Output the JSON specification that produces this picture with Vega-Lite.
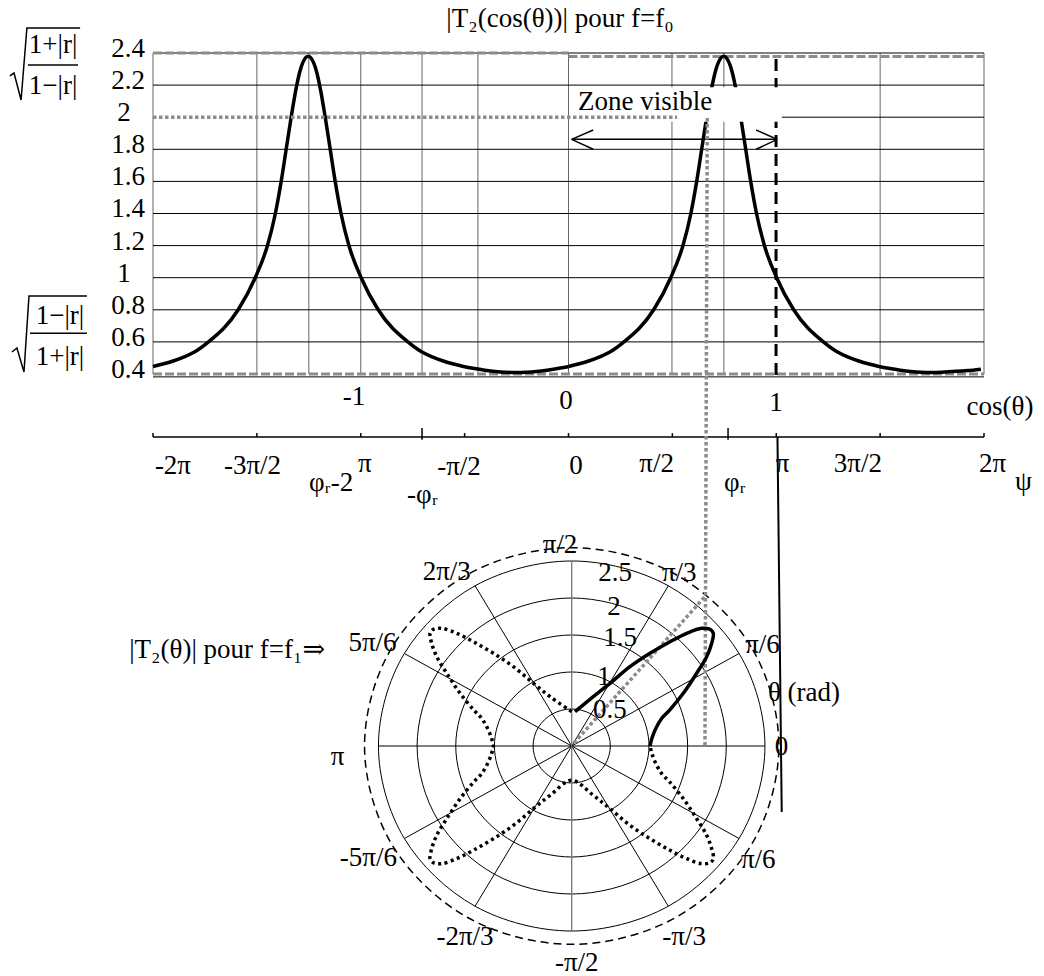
{
"$schema":"https://vega.github.io/schema/vega-lite/v6.json",
"width":1044,"height":976,"padding":0,"autosize":{"type":"none"},
"background":"#ffffff",
"config":{"view":{"stroke":null},"text":{"font":"'Liberation Serif', 'Times New Roman', 'DejaVu Serif', serif","fontSize":27,"fill":"#000"}},
"resolve":{"scale":{"x":"independent","y":"independent"}},
"layer":[
{"layer":[
{"data":{"values":[{"c1":-2,"v1":0.4,"c2":-2,"v2":2.4},{"c1":-1.5,"v1":0.4,"c2":-1.5,"v2":2.4},{"c1":-1.25,"v1":0.4,"c2":-1.25,"v2":2.4},{"c1":-1,"v1":0.4,"c2":-1,"v2":2.4},{"c1":-0.705,"v1":0.4,"c2":-0.705,"v2":2.4},{"c1":-0.436,"v1":0.4,"c2":-0.436,"v2":2.4},{"c1":0,"v1":0.4,"c2":0,"v2":2.4},{"c1":0.498,"v1":0.4,"c2":0.498,"v2":2.4},{"c1":0.748,"v1":0.4,"c2":0.748,"v2":2.4},{"c1":1.5,"v1":0.4,"c2":1.5,"v2":2.4},{"c1":2,"v1":0.4,"c2":2,"v2":2.4}]},
"mark":{"type":"rule","stroke":"#666666","strokeWidth":1},
"encoding":{"x":{"field":"c1","type":"quantitative","scale":{"domain":[-2,2],"range":[153,984],"nice":false,"zero":false},"axis":null},"x2":{"field":"c2"},"y":{"field":"v1","type":"quantitative","scale":{"domain":[0.4,2.4],"range":[374,53],"nice":false,"zero":false},"axis":null},"y2":{"field":"v2"}}},
{"data":{"values":[{"c1":-2,"v1":0.6,"c2":0,"v2":0.6},{"c1":-2,"v1":0.8,"c2":0,"v2":0.8},{"c1":-2,"v1":1,"c2":0,"v2":1},{"c1":-2,"v1":1.2,"c2":0,"v2":1.2},{"c1":-2,"v1":1.4,"c2":0,"v2":1.4},{"c1":-2,"v1":1.6,"c2":0,"v2":1.6},{"c1":-2,"v1":1.8,"c2":0,"v2":1.8},{"c1":-2,"v1":2.2,"c2":0,"v2":2.2},{"c1":0,"v1":0.6,"c2":2,"v2":0.6},{"c1":0,"v1":0.8,"c2":2,"v2":0.8},{"c1":0,"v1":1,"c2":2,"v2":1},{"c1":0,"v1":1.2,"c2":2,"v2":1.2},{"c1":0,"v1":1.4,"c2":2,"v2":1.4},{"c1":0,"v1":1.6,"c2":2,"v2":1.6},{"c1":0,"v1":1.8,"c2":2,"v2":1.8},{"c1":0,"v1":2,"c2":2,"v2":2},{"c1":0,"v1":2.2,"c2":2,"v2":2.2},{"c1":-2,"v1":2.4,"c2":2,"v2":2.4},{"c1":-2,"v1":0.382,"c2":2,"v2":0.382}]},
"mark":{"type":"rule","stroke":"#000000","strokeWidth":1},
"encoding":{"x":{"field":"c1","type":"quantitative","scale":{"domain":[-2,2],"range":[153,984],"nice":false,"zero":false},"axis":null},"x2":{"field":"c2"},"y":{"field":"v1","type":"quantitative","scale":{"domain":[0.4,2.4],"range":[374,53],"nice":false,"zero":false},"axis":null},"y2":{"field":"v2"}}},
{"data":{"values":[{"c1":-2,"v1":2.4,"c2":0,"v2":2.4},{"c1":0,"v1":2.378,"c2":2,"v2":2.378},{"c1":-2,"v1":0.4,"c2":2,"v2":0.4}]},
"mark":{"type":"rule","stroke":"#8c8c8c","strokeWidth":3,"strokeDash":[9,3]},
"encoding":{"x":{"field":"c1","type":"quantitative","scale":{"domain":[-2,2],"range":[153,984],"nice":false,"zero":false},"axis":null},"x2":{"field":"c2"},"y":{"field":"v1","type":"quantitative","scale":{"domain":[0.4,2.4],"range":[374,53],"nice":false,"zero":false},"axis":null},"y2":{"field":"v2"}}},
{"data":{"values":[
{"s":"L","c":-2,"v":0.447},{"s":"L","c":-1.953,"v":0.462},{"s":"L","c":-1.903,"v":0.481},{"s":"L","c":-1.853,"v":0.505},{"s":"L","c":-1.803,"v":0.535},{"s":"L","c":-1.733,"v":0.6},{"s":"L","c":-1.59,"v":0.8},{"s":"L","c":-1.508,"v":1.0},{"s":"L","c":-1.449,"v":1.2},{"s":"L","c":-1.411,"v":1.4},{"s":"L","c":-1.383,"v":1.6},{"s":"L","c":-1.359,"v":1.8},{"s":"L","c":-1.335,"v":2.0},{"s":"L","c":-1.308,"v":2.2},{"s":"L","c":-1.293,"v":2.285},{"s":"L","c":-1.278,"v":2.343},{"s":"L","c":-1.253,"v":2.38},{"s":"L","c":-1.228,"v":2.343},{"s":"L","c":-1.213,"v":2.285},{"s":"L","c":-1.198,"v":2.2},{"s":"L","c":-1.171,"v":2.0},{"s":"L","c":-1.147,"v":1.8},{"s":"L","c":-1.123,"v":1.6},{"s":"L","c":-1.095,"v":1.4},{"s":"L","c":-1.057,"v":1.2},{"s":"L","c":-0.998,"v":1.0},{"s":"L","c":-0.916,"v":0.8},{"s":"L","c":-0.773,"v":0.6},{"s":"L","c":-0.703,"v":0.535},{"s":"L","c":-0.653,"v":0.505},{"s":"L","c":-0.603,"v":0.481},{"s":"L","c":-0.553,"v":0.462},{"s":"L","c":-0.506,"v":0.447},{"s":"L","c":-0.453,"v":0.434},{"s":"L","c":-0.403,"v":0.424},{"s":"L","c":-0.353,"v":0.416},{"s":"L","c":-0.303,"v":0.411},{"s":"L","c":-0.253,"v":0.409},{"s":"L","c":-0.203,"v":0.411},{"s":"L","c":-0.153,"v":0.416},{"s":"L","c":-0.103,"v":0.424},{"s":"L","c":-0.053,"v":0.434},{"s":"L","c":0,"v":0.445},
{"s":"R","c":0,"v":0.447},{"s":"R","c":0.047,"v":0.462},{"s":"R","c":0.097,"v":0.481},{"s":"R","c":0.147,"v":0.505},{"s":"R","c":0.197,"v":0.535},{"s":"R","c":0.267,"v":0.6},{"s":"R","c":0.41,"v":0.8},{"s":"R","c":0.492,"v":1.0},{"s":"R","c":0.551,"v":1.2},{"s":"R","c":0.589,"v":1.4},{"s":"R","c":0.617,"v":1.6},{"s":"R","c":0.641,"v":1.8},{"s":"R","c":0.665,"v":2.0},{"s":"R","c":0.692,"v":2.2},{"s":"R","c":0.707,"v":2.285},{"s":"R","c":0.722,"v":2.343},{"s":"R","c":0.747,"v":2.38},{"s":"R","c":0.772,"v":2.343},{"s":"R","c":0.787,"v":2.285},{"s":"R","c":0.802,"v":2.2},{"s":"R","c":0.829,"v":2.0},{"s":"R","c":0.853,"v":1.8},{"s":"R","c":0.877,"v":1.6},{"s":"R","c":0.905,"v":1.4},{"s":"R","c":0.943,"v":1.2},{"s":"R","c":1.002,"v":1.0},{"s":"R","c":1.084,"v":0.8},{"s":"R","c":1.227,"v":0.6},{"s":"R","c":1.297,"v":0.535},{"s":"R","c":1.347,"v":0.505},{"s":"R","c":1.397,"v":0.481},{"s":"R","c":1.447,"v":0.462},{"s":"R","c":1.494,"v":0.447},{"s":"R","c":1.547,"v":0.434},{"s":"R","c":1.597,"v":0.424},{"s":"R","c":1.647,"v":0.416},{"s":"R","c":1.697,"v":0.411},{"s":"R","c":1.747,"v":0.409},{"s":"R","c":1.797,"v":0.411},{"s":"R","c":1.847,"v":0.415},{"s":"R","c":1.897,"v":0.419},{"s":"R","c":1.947,"v":0.424},{"s":"R","c":1.985,"v":0.43}]},
"mark":{"type":"line","stroke":"#000000","strokeWidth":3.5,"interpolate":"monotone"},
"encoding":{"x":{"field":"c","type":"quantitative","scale":{"domain":[-2,2],"range":[153,984],"nice":false,"zero":false},"axis":null},"y":{"field":"v","type":"quantitative","scale":{"domain":[0.4,2.4],"range":[374,53],"nice":false,"zero":false},"axis":null},"detail":{"field":"s"}}},
{"data":{"values":[{"c1":0.999,"v1":0.394,"c2":0.999,"v2":2.369}]},
"mark":{"type":"rule","stroke":"#000000","strokeWidth":3,"strokeDash":[12,7]},
"encoding":{"x":{"field":"c1","type":"quantitative","scale":{"domain":[-2,2],"range":[153,984],"nice":false,"zero":false},"axis":null},"x2":{"field":"c2"},"y":{"field":"v1","type":"quantitative","scale":{"domain":[0.4,2.4],"range":[374,53],"nice":false,"zero":false},"axis":null},"y2":{"field":"v2"}}},
{"data":{"values":[{"c1":0.003,"v1":1.972,"c2":1.027,"v2":2.186}]},
"mark":{"type":"rect","fill":"#ffffff"},
"encoding":{"x":{"field":"c1","type":"quantitative","scale":{"domain":[-2,2],"range":[153,984],"nice":false,"zero":false},"axis":null},"x2":{"field":"c2"},"y":{"field":"v1","type":"quantitative","scale":{"domain":[0.4,2.4],"range":[374,53],"nice":false,"zero":false},"axis":null},"y2":{"field":"v2"}}},
{"data":{"values":[{"c1":-2,"v1":2.0,"c2":0.522,"v2":2.0}]},
"mark":{"type":"rule","stroke":"#8c8c8c","strokeWidth":3.5,"strokeDash":[3.5,2.5]},
"encoding":{"x":{"field":"c1","type":"quantitative","scale":{"domain":[-2,2],"range":[153,984],"nice":false,"zero":false},"axis":null},"x2":{"field":"c2"},"y":{"field":"v1","type":"quantitative","scale":{"domain":[0.4,2.4],"range":[374,53],"nice":false,"zero":false},"axis":null},"y2":{"field":"v2"}}},
{"data":{"values":[{"c1":0.015,"v1":1.862,"c2":1.003,"v2":1.862},{"c1":0.015,"v1":1.862,"c2":0.119,"v2":1.92},{"c1":0.015,"v1":1.862,"c2":0.119,"v2":1.8},{"c1":1.005,"v1":1.862,"c2":0.903,"v2":1.92},{"c1":1.005,"v1":1.862,"c2":0.903,"v2":1.8},{"c1":-2,"v1":0.0075,"c2":2,"v2":0.0075},{"c1":-2,"v1":0.0075,"c2":-2,"v2":0.032},{"c1":-1.5,"v1":0.0075,"c2":-1.5,"v2":0.032},{"c1":-1,"v1":0.0075,"c2":-1,"v2":0.032},{"c1":-0.5,"v1":0.0075,"c2":-0.5,"v2":0.032},{"c1":0,"v1":0.0075,"c2":0,"v2":0.032},{"c1":0.5,"v1":0.0075,"c2":0.5,"v2":0.032},{"c1":1,"v1":0.0075,"c2":1,"v2":0.032},{"c1":1.5,"v1":0.0075,"c2":1.5,"v2":0.032},{"c1":2,"v1":0.0075,"c2":2,"v2":0.032},{"c1":-0.705,"v1":-0.01,"c2":-0.705,"v2":0.064},{"c1":0.768,"v1":-0.01,"c2":0.768,"v2":0.064},{"c1":-2.602,"v1":2.325,"c2":-2.361,"v2":2.325},{"c1":-2.592,"v1":0.654,"c2":-2.318,"v2":0.654}]},
"mark":{"type":"rule","stroke":"#000000","strokeWidth":1.5},
"encoding":{"x":{"field":"c1","type":"quantitative","scale":{"domain":[-2,2],"range":[153,984],"nice":false,"zero":false},"axis":null},"x2":{"field":"c2"},"y":{"field":"v1","type":"quantitative","scale":{"domain":[0.4,2.4],"range":[374,53],"nice":false,"zero":false},"axis":null},"y2":{"field":"v2"}}},
{"data":{"values":[{"g":1,"i":0,"c":-2.689,"v":2.257},{"g":1,"i":1,"c":-2.669,"v":2.275},{"g":1,"i":2,"c":-2.635,"v":2.107},{"g":1,"i":3,"c":-2.607,"v":2.556},{"g":1,"i":4,"c":-2.351,"v":2.556},{"g":2,"i":0,"c":-2.679,"v":0.537},{"g":2,"i":1,"c":-2.655,"v":0.562},{"g":2,"i":2,"c":-2.621,"v":0.412},{"g":2,"i":3,"c":-2.597,"v":0.886},{"g":2,"i":4,"c":-2.318,"v":0.886}]},
"mark":{"type":"line","stroke":"#000000","strokeWidth":1.5},
"encoding":{"x":{"field":"c","type":"quantitative","scale":{"domain":[-2,2],"range":[153,984],"nice":false,"zero":false},"axis":null},"y":{"field":"v","type":"quantitative","scale":{"domain":[0.4,2.4],"range":[374,53],"nice":false,"zero":false},"axis":null},"detail":{"field":"g"},"order":{"field":"i","type":"quantitative"}}},
{"data":{"values":[
{"t":"2.4","c":-2.12,"v":2.425},{"t":"2.2","c":-2.12,"v":2.225},{"t":"2","c":-2.14,"v":2.025},{"t":"1.8","c":-2.12,"v":1.825},{"t":"1.6","c":-2.12,"v":1.625},{"t":"1.4","c":-2.12,"v":1.425},{"t":"1.2","c":-2.12,"v":1.225},{"t":"1","c":-2.14,"v":1.025},{"t":"0.8","c":-2.12,"v":0.825},{"t":"0.6","c":-2.12,"v":0.625},{"t":"0.4","c":-2.12,"v":0.425},
{"t":"-1","c":-1.032,"v":0.257},{"t":"0","c":-0.012,"v":0.232},{"t":"1","c":0.999,"v":0.219},{"t":"cos(θ)","c":2.077,"v":0.194},
{"t":"-2π","c":-1.904,"v":-0.173},{"t":"-3π/2","c":-1.521,"v":-0.173},{"t":"π","c":-0.98,"v":-0.161},{"t":"φᵣ-2","c":-1.143,"v":-0.279},{"t":"-π/2","c":-0.527,"v":-0.179},{"t":"-φᵣ","c":-0.703,"v":-0.354},{"t":"0","c":0.036,"v":-0.173},{"t":"π/2","c":0.424,"v":-0.161},{"t":"φᵣ","c":0.801,"v":-0.279},{"t":"π","c":1.03,"v":-0.161},{"t":"3π/2","c":1.393,"v":-0.161},{"t":"2π","c":2.041,"v":-0.161},{"t":"ψ","c":2.19,"v":-0.273},
{"t":"|T₂(cos(θ))| pour f=f₀","c":-0.041,"v":2.612},
{"t":"1+|r|","c":-2.481,"v":2.45},{"t":"1−|r|","c":-2.481,"v":2.194},{"t":"1−|r|","c":-2.448,"v":0.761},{"t":"1+|r|","c":-2.448,"v":0.506}]},
"mark":{"type":"text","align":"center","baseline":"middle","font":"'Liberation Serif', 'Times New Roman', 'DejaVu Serif', serif","fontSize":27,"fill":"#000000"},
"encoding":{"x":{"field":"c","type":"quantitative","scale":{"domain":[-2,2],"range":[153,984],"nice":false,"zero":false},"axis":null},"y":{"field":"v","type":"quantitative","scale":{"domain":[0.4,2.4],"range":[374,53],"nice":false,"zero":false},"axis":null},"text":{"field":"t"}}},
{"data":{"values":[{"t":"Zone visible","c":0.046,"v":2.095}]},
"mark":{"type":"text","align":"left","baseline":"middle","font":"'Liberation Serif', 'Times New Roman', 'DejaVu Serif', serif","fontSize":27,"fill":"#000000"},
"encoding":{"x":{"field":"c","type":"quantitative","scale":{"domain":[-2,2],"range":[153,984],"nice":false,"zero":false},"axis":null},"y":{"field":"v","type":"quantitative","scale":{"domain":[0.4,2.4],"range":[374,53],"nice":false,"zero":false},"axis":null},"text":{"field":"t"}}}
]},
{"layer":[
{"data":{"values":[
{"r":0.5,"i":0,"u":0.5,"w":0},{"r":0.5,"i":1,"u":0.433,"w":0.25},{"r":0.5,"i":2,"u":0.25,"w":0.433},{"r":0.5,"i":3,"u":0,"w":0.5},{"r":0.5,"i":4,"u":-0.25,"w":0.433},{"r":0.5,"i":5,"u":-0.433,"w":0.25},{"r":0.5,"i":6,"u":-0.5,"w":0},{"r":0.5,"i":7,"u":-0.433,"w":-0.25},{"r":0.5,"i":8,"u":-0.25,"w":-0.433},{"r":0.5,"i":9,"u":0,"w":-0.5},{"r":0.5,"i":10,"u":0.25,"w":-0.433},{"r":0.5,"i":11,"u":0.433,"w":-0.25},
{"r":1,"i":0,"u":1,"w":0},{"r":1,"i":1,"u":0.866,"w":0.5},{"r":1,"i":2,"u":0.5,"w":0.866},{"r":1,"i":3,"u":0,"w":1},{"r":1,"i":4,"u":-0.5,"w":0.866},{"r":1,"i":5,"u":-0.866,"w":0.5},{"r":1,"i":6,"u":-1,"w":0},{"r":1,"i":7,"u":-0.866,"w":-0.5},{"r":1,"i":8,"u":-0.5,"w":-0.866},{"r":1,"i":9,"u":0,"w":-1},{"r":1,"i":10,"u":0.5,"w":-0.866},{"r":1,"i":11,"u":0.866,"w":-0.5},
{"r":1.5,"i":0,"u":1.5,"w":0},{"r":1.5,"i":1,"u":1.299,"w":0.75},{"r":1.5,"i":2,"u":0.75,"w":1.299},{"r":1.5,"i":3,"u":0,"w":1.5},{"r":1.5,"i":4,"u":-0.75,"w":1.299},{"r":1.5,"i":5,"u":-1.299,"w":0.75},{"r":1.5,"i":6,"u":-1.5,"w":0},{"r":1.5,"i":7,"u":-1.299,"w":-0.75},{"r":1.5,"i":8,"u":-0.75,"w":-1.299},{"r":1.5,"i":9,"u":0,"w":-1.5},{"r":1.5,"i":10,"u":0.75,"w":-1.299},{"r":1.5,"i":11,"u":1.299,"w":-0.75},
{"r":2,"i":0,"u":2,"w":0},{"r":2,"i":1,"u":1.732,"w":1},{"r":2,"i":2,"u":1,"w":1.732},{"r":2,"i":3,"u":0,"w":2},{"r":2,"i":4,"u":-1,"w":1.732},{"r":2,"i":5,"u":-1.732,"w":1},{"r":2,"i":6,"u":-2,"w":0},{"r":2,"i":7,"u":-1.732,"w":-1},{"r":2,"i":8,"u":-1,"w":-1.732},{"r":2,"i":9,"u":0,"w":-2},{"r":2,"i":10,"u":1,"w":-1.732},{"r":2,"i":11,"u":1.732,"w":-1},
{"r":2.5,"i":0,"u":2.5,"w":0},{"r":2.5,"i":1,"u":2.165,"w":1.25},{"r":2.5,"i":2,"u":1.25,"w":2.165},{"r":2.5,"i":3,"u":0,"w":2.5},{"r":2.5,"i":4,"u":-1.25,"w":2.165},{"r":2.5,"i":5,"u":-2.165,"w":1.25},{"r":2.5,"i":6,"u":-2.5,"w":0},{"r":2.5,"i":7,"u":-2.165,"w":-1.25},{"r":2.5,"i":8,"u":-1.25,"w":-2.165},{"r":2.5,"i":9,"u":0,"w":-2.5},{"r":2.5,"i":10,"u":1.25,"w":-2.165},{"r":2.5,"i":11,"u":2.165,"w":-1.25}]},
"mark":{"type":"line","stroke":"#000000","strokeWidth":1,"interpolate":"cardinal-closed"},
"encoding":{"x":{"field":"u","type":"quantitative","scale":{"domain":[-3,3],"range":[339.8,803.6],"nice":false,"zero":false},"axis":null},"y":{"field":"w","type":"quantitative","scale":{"domain":[-3,3],"range":[968,524],"nice":false,"zero":false},"axis":null},"detail":{"field":"r"},"order":{"field":"i","type":"quantitative"}}},
{"data":{"values":[
{"i":0,"u":2.68,"w":0},{"i":1,"u":2.321,"w":1.34},{"i":2,"u":1.34,"w":2.321},{"i":3,"u":0,"w":2.68},{"i":4,"u":-1.34,"w":2.321},{"i":5,"u":-2.321,"w":1.34},{"i":6,"u":-2.68,"w":0},{"i":7,"u":-2.321,"w":-1.34},{"i":8,"u":-1.34,"w":-2.321},{"i":9,"u":0,"w":-2.68},{"i":10,"u":1.34,"w":-2.321},{"i":11,"u":2.321,"w":-1.34}]},
"mark":{"type":"line","stroke":"#000000","strokeWidth":1.5,"strokeDash":[8,5],"interpolate":"cardinal-closed"},
"encoding":{"x":{"field":"u","type":"quantitative","scale":{"domain":[-3,3],"range":[339.8,803.6],"nice":false,"zero":false},"axis":null},"y":{"field":"w","type":"quantitative","scale":{"domain":[-3,3],"range":[968,524],"nice":false,"zero":false},"axis":null},"order":{"field":"i","type":"quantitative"}}},
{"data":{"values":[{"u1":2.5,"w1":0,"u2":-2.5,"w2":0},{"u1":2.165,"w1":1.25,"u2":-2.165,"w2":-1.25},{"u1":1.25,"w1":2.165,"u2":-1.25,"w2":-2.165},{"u1":-1.25,"w1":2.165,"u2":1.25,"w2":-2.165},{"u1":-2.165,"w1":1.25,"u2":2.165,"w2":-1.25}]},
"mark":{"type":"rule","stroke":"#000000","strokeWidth":1},
"encoding":{"x":{"field":"u1","type":"quantitative","scale":{"domain":[-3,3],"range":[339.8,803.6],"nice":false,"zero":false},"axis":null},"x2":{"field":"u2"},"y":{"field":"w1","type":"quantitative","scale":{"domain":[-3,3],"range":[968,524],"nice":false,"zero":false},"axis":null},"y2":{"field":"w2"}}},
{"data":{"values":[{"u1":0,"w1":2.5,"u2":0,"w2":-2.5}]},
"mark":{"type":"rule","stroke":"#777777","strokeWidth":1.3},
"encoding":{"x":{"field":"u1","type":"quantitative","scale":{"domain":[-3,3],"range":[339.8,803.6],"nice":false,"zero":false},"axis":null},"x2":{"field":"u2"},"y":{"field":"w1","type":"quantitative","scale":{"domain":[-3,3],"range":[968,524],"nice":false,"zero":false},"axis":null},"y2":{"field":"w2"}}},
{"data":{"values":[{"u1":0.03,"w1":0.04,"u2":1.724,"w2":2.02},{"u1":1.754,"w1":8.486,"u2":1.724,"w2":0}]},
"mark":{"type":"rule","stroke":"#8c8c8c","strokeWidth":3.5,"strokeDash":[3.5,2.5]},
"encoding":{"x":{"field":"u1","type":"quantitative","scale":{"domain":[-3,3],"range":[339.8,803.6],"nice":false,"zero":false},"axis":null},"x2":{"field":"u2"},"y":{"field":"w1","type":"quantitative","scale":{"domain":[-3,3],"range":[968,524],"nice":false,"zero":false},"axis":null},"y2":{"field":"w2"}}},
{"data":{"values":[{"u1":2.662,"w1":4.176,"u2":2.717,"w2":-0.892}]},
"mark":{"type":"rule","stroke":"#000000","strokeWidth":2},
"encoding":{"x":{"field":"u1","type":"quantitative","scale":{"domain":[-3,3],"range":[339.8,803.6],"nice":false,"zero":false},"axis":null},"x2":{"field":"u2"},"y":{"field":"w1","type":"quantitative","scale":{"domain":[-3,3],"range":[968,524],"nice":false,"zero":false},"axis":null},"y2":{"field":"w2"}}},
{"data":{"values":[
{"i":0,"u":1.013,"w":0},{"i":1,"u":1.039,"w":0.108},{"i":2,"u":1.091,"w":0.243},{"i":3,"u":1.168,"w":0.378},{"i":4,"u":1.267,"w":0.486},{"i":5,"u":1.444,"w":0.712},{"i":6,"u":1.617,"w":0.983},{"i":7,"u":1.746,"w":1.207},{"i":8,"u":1.811,"w":1.388},{"i":9,"u":1.832,"w":1.523},{"i":10,"u":1.789,"w":1.577},{"i":11,"u":1.682,"w":1.591},{"i":12,"u":1.488,"w":1.523},{"i":13,"u":1.272,"w":1.409},{"i":14,"u":1.013,"w":1.253},{"i":15,"u":0.754,"w":1.072},{"i":16,"u":0.495,"w":0.847},{"i":17,"u":0.279,"w":0.666},{"i":18,"u":0.043,"w":0.464}]},
"mark":{"type":"line","stroke":"#000000","strokeWidth":3.5,"interpolate":"catmull-rom"},
"encoding":{"x":{"field":"u","type":"quantitative","scale":{"domain":[-3,3],"range":[339.8,803.6],"nice":false,"zero":false},"axis":null},"y":{"field":"w","type":"quantitative","scale":{"domain":[-3,3],"range":[968,524],"nice":false,"zero":false},"axis":null},"order":{"field":"i","type":"quantitative"}}},
{"data":{"values":[
{"i":0,"u":0,"w":0.464},{"i":1,"u":-0.279,"w":0.666},{"i":2,"u":-0.495,"w":0.847},{"i":3,"u":-0.754,"w":1.072},{"i":4,"u":-1.013,"w":1.253},{"i":5,"u":-1.272,"w":1.409},{"i":6,"u":-1.488,"w":1.523},{"i":7,"u":-1.682,"w":1.591},{"i":8,"u":-1.789,"w":1.577},{"i":9,"u":-1.832,"w":1.523},{"i":10,"u":-1.811,"w":1.388},{"i":11,"u":-1.746,"w":1.207},{"i":12,"u":-1.617,"w":0.983},{"i":13,"u":-1.444,"w":0.712},{"i":14,"u":-1.267,"w":0.486},{"i":15,"u":-1.168,"w":0.378},{"i":16,"u":-1.091,"w":0.243},{"i":17,"u":-1.039,"w":0.108},{"i":18,"u":-1.013,"w":0},
{"i":19,"u":-1.039,"w":-0.108},{"i":20,"u":-1.091,"w":-0.243},{"i":21,"u":-1.168,"w":-0.378},{"i":22,"u":-1.267,"w":-0.486},{"i":23,"u":-1.444,"w":-0.712},{"i":24,"u":-1.617,"w":-0.983},{"i":25,"u":-1.746,"w":-1.207},{"i":26,"u":-1.811,"w":-1.388},{"i":27,"u":-1.832,"w":-1.523},{"i":28,"u":-1.789,"w":-1.577},{"i":29,"u":-1.682,"w":-1.591},{"i":30,"u":-1.488,"w":-1.523},{"i":31,"u":-1.272,"w":-1.409},{"i":32,"u":-1.013,"w":-1.253},{"i":33,"u":-0.754,"w":-1.072},{"i":34,"u":-0.495,"w":-0.847},{"i":35,"u":-0.279,"w":-0.666},{"i":36,"u":0,"w":-0.464},
{"i":37,"u":0.279,"w":-0.666},{"i":38,"u":0.495,"w":-0.847},{"i":39,"u":0.754,"w":-1.072},{"i":40,"u":1.013,"w":-1.253},{"i":41,"u":1.272,"w":-1.409},{"i":42,"u":1.488,"w":-1.523},{"i":43,"u":1.682,"w":-1.591},{"i":44,"u":1.789,"w":-1.577},{"i":45,"u":1.832,"w":-1.523},{"i":46,"u":1.811,"w":-1.388},{"i":47,"u":1.746,"w":-1.207},{"i":48,"u":1.617,"w":-0.983},{"i":49,"u":1.444,"w":-0.712},{"i":50,"u":1.267,"w":-0.486},{"i":51,"u":1.168,"w":-0.378},{"i":52,"u":1.091,"w":-0.243},{"i":53,"u":1.039,"w":-0.108},{"i":54,"u":1.013,"w":0}]},
"mark":{"type":"line","stroke":"#000000","strokeWidth":3.5,"strokeDash":[3,3.5],"interpolate":"catmull-rom"},
"encoding":{"x":{"field":"u","type":"quantitative","scale":{"domain":[-3,3],"range":[339.8,803.6],"nice":false,"zero":false},"axis":null},"y":{"field":"w","type":"quantitative","scale":{"domain":[-3,3],"range":[968,524],"nice":false,"zero":false},"axis":null},"order":{"field":"i","type":"quantitative"}}},
{"data":{"values":[
{"t":"π/2","u":-0.151,"w":2.716},{"t":"2π/3","u":-1.617,"w":2.355},{"t":"5π/6","u":-2.577,"w":1.392},{"t":"π","u":-3.03,"w":-0.145},{"t":"-5π/6","u":-2.631,"w":-1.514},{"t":"-2π/3","u":-1.38,"w":-2.577},{"t":"-π/2","u":0.065,"w":-2.936},{"t":"-π/3","u":1.455,"w":-2.577},{"t":"π/6","u":2.414,"w":-1.541},{"t":"0","u":2.714,"w":-0.009},{"t":"θ (rad)","u":3.005,"w":0.712},{"t":"π/6","u":2.468,"w":1.365},{"t":"π/3","u":1.391,"w":2.338},
{"t":"2.5","u":0.561,"w":2.334},{"t":"2","u":0.548,"w":1.882},{"t":"1.5","u":0.625,"w":1.455},{"t":"1","u":0.419,"w":0.936},{"t":"0.5","u":0.495,"w":0.486}]},
"mark":{"type":"text","align":"center","baseline":"middle","font":"'Liberation Serif', 'Times New Roman', 'DejaVu Serif', serif","fontSize":27,"fill":"#000000"},
"encoding":{"x":{"field":"u","type":"quantitative","scale":{"domain":[-3,3],"range":[339.8,803.6],"nice":false,"zero":false},"axis":null},"y":{"field":"w","type":"quantitative","scale":{"domain":[-3,3],"range":[968,524],"nice":false,"zero":false},"axis":null},"text":{"field":"t"}}},
{"data":{"values":[{"t":"|T₂(θ)| pour f=f₁⇒","u":-3.191,"w":1.297}]},
"mark":{"type":"text","align":"right","baseline":"middle","font":"'Liberation Serif', 'Times New Roman', 'DejaVu Serif', serif","fontSize":27,"fill":"#000000"},
"encoding":{"x":{"field":"u","type":"quantitative","scale":{"domain":[-3,3],"range":[339.8,803.6],"nice":false,"zero":false},"axis":null},"y":{"field":"w","type":"quantitative","scale":{"domain":[-3,3],"range":[968,524],"nice":false,"zero":false},"axis":null},"text":{"field":"t"}}}
]}
]
}
